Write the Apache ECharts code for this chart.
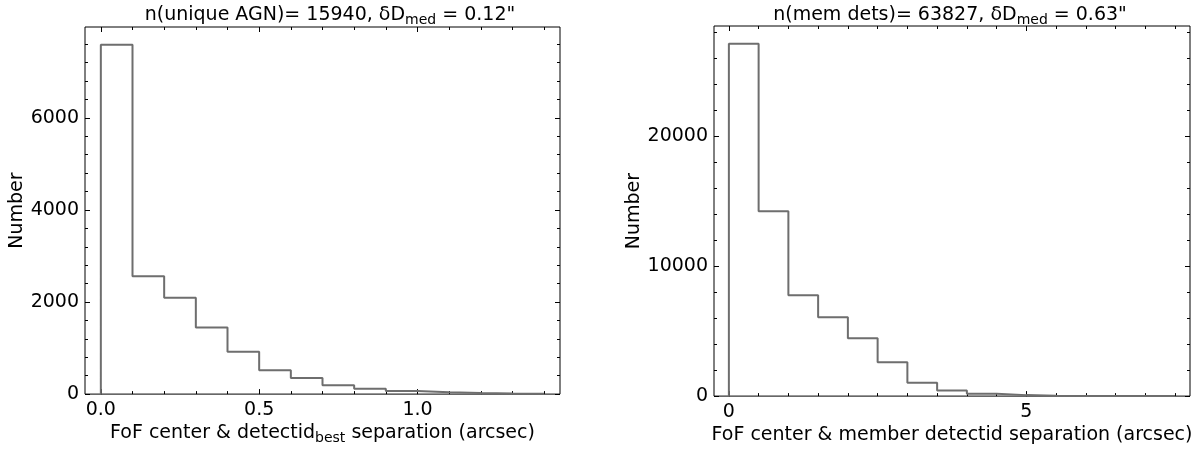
<!DOCTYPE html>
<html>
<head>
<meta charset="utf-8">
<script src="https://cdn.jsdelivr.net/npm/echarts@6/dist/echarts.min.js"></script>
<style>
  html, body { margin: 0; padding: 0; background: #fff; }
  #main { width: 1201px; height: 450px; }
</style>
</head>
<body>
<div id="main"></div>
<script>
// bin edges and counts
var leftEdges = [0, 0.1, 0.2, 0.3, 0.4, 0.5, 0.6, 0.7, 0.8, 0.9, 1.0, 1.1, 1.2, 1.3, 1.4];
var leftCounts = [7590, 2560, 2090, 1445, 920, 520, 350, 190, 115, 65, 40, 25, 15, 10];
var rightEdges = [0, 0.5, 1.0, 1.5, 2.0, 2.5, 3.0, 3.5, 4.0, 4.5, 5.0, 5.5, 6.0, 6.5, 7.0, 7.5];
var rightCounts = [27090, 14210, 7760, 6060, 4450, 2610, 1020, 440, 190, 75, 30, 15, 8, 4, 2];

// tick labels
var leftXTicks = [0, 0.5, 1.0];
var leftYTicks = [0, 2000, 4000, 6000];
var rightXTicks = [0, 5];
var rightYTicks = [0, 10000, 20000];

var FONT = 'DejaVu Sans';
var FS = 19;
var chart = echarts.init(document.getElementById('main'));

// histogram outline (histtype step)
function stepPoints(edges, counts) {
    var pts = [[edges[0], 0]];
    for (var i = 0; i < counts.length; i++) {
        pts.push([edges[i], counts[i]]);
        pts.push([edges[i + 1], counts[i]]);
    }
    pts.push([edges[counts.length], 0]);
    return pts;
}

function minorValues(min, max, step) {
    var out = [];
    for (var v = Math.ceil(min / step) * step; v <= max + 1e-9; v += step) {
        out.push(Math.round(v * 1000) / 1000);
    }
    return out;
}

var xAxes = [], yAxes = [], series = [];

// major/minor ticks on both sides for one grid
function addAxes(list, g, dir, min, max, majors, minorStep, fmt, name, nameGap, nameRich) {
    var posA = dir == 'x' ? 'bottom' : 'left';
    var posB = dir == 'x' ? 'top' : 'right';
    var minors = minorValues(min, max, minorStep);
    var base = {
        type: 'value', gridIndex: g, min: min, max: max,
        axisLine: { show: false, onZero: false }, splitLine: { show: false }
    };
    var mainIdx = list.length;
    list.push(Object.assign({}, base, {
        position: posA,
        axisTick: { inside: true, length: 5, customValues: majors, lineStyle: { color: '#000', width: 1 } },
        axisLabel: { customValues: majors, formatter: fmt, color: '#000', fontSize: FS, fontFamily: FONT, margin: 6 },
        name: name, nameLocation: 'middle', nameGap: nameGap,
        nameTextStyle: { color: '#000', fontSize: FS, fontFamily: FONT, rich: nameRich }
    }));
    list.push(Object.assign({}, base, {
        position: posA,
        axisTick: { inside: true, length: 3, customValues: minors, lineStyle: { color: '#000', width: 1 } },
        axisLabel: { show: false }
    }));
    list.push(Object.assign({}, base, {
        position: posB,
        axisTick: { inside: true, length: 5, customValues: majors, lineStyle: { color: '#000', width: 1 } },
        axisLabel: { show: false }
    }));
    list.push(Object.assign({}, base, {
        position: posB,
        axisTick: { inside: true, length: 3, customValues: minors, lineStyle: { color: '#000', width: 1 } },
        axisLabel: { show: false }
    }));
    return mainIdx;
}

var subRich = {
    n: { fontSize: FS, fontFamily: FONT, fontWeight: 'normal', color: '#000', lineHeight: 23 },
    s: { fontSize: 14, fontFamily: FONT, fontWeight: 'normal', color: '#000', lineHeight: 23, verticalAlign: 'bottom' }
};

var lx = addAxes(xAxes, 0, 'x', -0.05, 1.45, leftXTicks, 0.1,
    function (v) { return v.toFixed(1); },
    '{n|FoF center & detectid}{s|best}{n| separation (arcsec)}', 25, subRich);
var ly = addAxes(yAxes, 0, 'y', 0, 7973, leftYTicks, 400,
    function (v) { return String(v); }, 'Number', 57, subRich);
var rx = addAxes(xAxes, 1, 'x', -0.25, 7.75, rightXTicks, 0.5,
    function (v) { return String(v); },
    '{n|FoF center & member detectid separation (arcsec)}', 25, subRich);
var ry = addAxes(yAxes, 1, 'y', 0, 28445, rightYTicks, 2000,
    function (v) { return String(v); }, 'Number', 65, subRich);

series.push({
    type: 'line', xAxisIndex: lx, yAxisIndex: ly, data: stepPoints(leftEdges, leftCounts),
    showSymbol: false, lineStyle: { color: '#6e6e6e', width: 2 }, animation: false
});
series.push({
    type: 'line', xAxisIndex: rx, yAxisIndex: ry, data: stepPoints(rightEdges, rightCounts),
    showSymbol: false, lineStyle: { color: '#6e6e6e', width: 2 }, animation: false
});

chart.setOption({
    animation: false,
    backgroundColor: '#fff',
    title: [{
        text: '{n|n(unique AGN)= 15940, δD}{s|med}{n| = 0.12"}',
        left: 325, top: -1, textAlign: 'center',
        textStyle: { fontWeight: 'normal', rich: subRich }
    }, {
        text: '{n|n(mem dets)= 63827, δD}{s|med}{n| = 0.63"}',
        left: 945, top: -1, textAlign: 'center',
        textStyle: { fontWeight: 'normal', rich: subRich }
    }],
    grid: [
        { left: 85, right: 641, top: 27, bottom: 48, show: true, borderColor: '#000', borderWidth: 1 },
        { left: 714, right: 11, top: 26, bottom: 48, show: true, borderColor: '#000', borderWidth: 1 }
    ],
    xAxis: xAxes,
    yAxis: yAxes,
    series: series
});
</script>
</body>
</html>
